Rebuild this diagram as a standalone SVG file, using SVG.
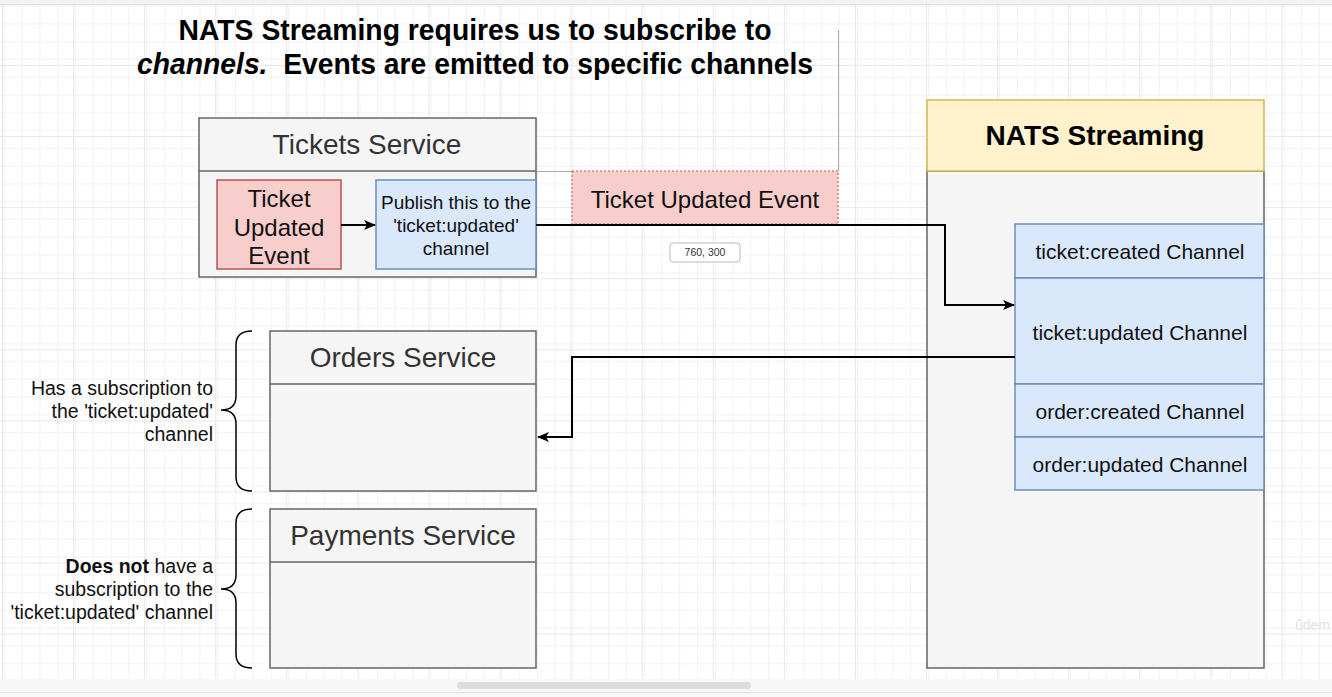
<svg xmlns="http://www.w3.org/2000/svg" width="1332" height="697" viewBox="0 0 1332 697">
<defs>
<pattern id="minor" patternUnits="userSpaceOnUse" x="1.96" y="65" width="17.77" height="17.77">
<path d="M0,0.5 H17.77 M0.5,0 V17.77" fill="none" stroke="#f1f1f1" stroke-width="1"/>
</pattern>
<pattern id="major" patternUnits="userSpaceOnUse" x="1.96" y="65" width="71.08" height="71.08">
<rect width="71.08" height="71.08" fill="url(#minor)"/>
<path d="M0,0.5 H71.08 M0.5,0 V71.08" fill="none" stroke="#e8e8e8" stroke-width="1"/>
</pattern>
<marker id="arr" viewBox="0 0 12 10" refX="11" refY="5" markerWidth="12" markerHeight="10" markerUnits="userSpaceOnUse" orient="auto">
<path d="M0,0 L12,5 L0,10 L3,5 Z" fill="#000"/>
</marker>
<style>
.t{font-family:"Liberation Sans",Arial,sans-serif}
.svc{fill:#f5f5f5;stroke:#666;stroke-width:1.5}
.hdr{font-size:28px;fill:#333;text-anchor:middle}
.red{fill:#f8cecc;stroke:#b85450;stroke-width:1.5}
.blue{fill:#dae8fc;stroke:#6c8ebf;stroke-width:1.5}
.ch{font-size:21px;fill:#111;text-anchor:middle}
.lbl{font-size:19.5px;fill:#111;text-anchor:end}
.conn{fill:none;stroke:#000;stroke-width:2}
.brace{fill:none;stroke:#000;stroke-width:1.5}
</style>
</defs>
<rect width="1332" height="697" fill="#fff"/>
<rect width="1332" height="697" fill="url(#major)"/>
<rect x="0" y="0" width="1332" height="4" fill="#f3f3f3"/>
<line x1="0" y1="4.5" x2="1332" y2="4.5" stroke="#dedede"/>

<g id="title" class="t" font-weight="bold" font-size="29" fill="#000" text-anchor="middle">
<text x="475" y="40" textLength="593" lengthAdjust="spacingAndGlyphs">NATS Streaming requires us to subscribe to</text>
<text x="475" y="74" textLength="676" lengthAdjust="spacingAndGlyphs"><tspan font-style="italic">channels.</tspan>&#160; Events are emitted to specific channels</text>
</g>

<g id="guides" stroke="#aaa" stroke-width="1">
<line x1="838.5" y1="30" x2="838.5" y2="171"/>
<line x1="536" y1="171.5" x2="572" y2="171.5"/>
</g>

<g id="tickets-service">
<rect class="svc" x="199" y="118" width="337" height="159"/>
<line x1="199" y1="171" x2="536" y2="171" stroke="#666" stroke-width="1.5"/>
<text class="t hdr" x="367" y="154">Tickets Service</text>
</g>

<g id="ticket-updated-event">
<rect class="red" x="217" y="180" width="124" height="89"/>
<text class="t" font-size="24" fill="#111" text-anchor="middle"><tspan x="279" y="207">Ticket</tspan><tspan x="279" y="236">Updated</tspan><tspan x="279" y="264">Event</tspan></text>
</g>

<g id="publish">
<rect class="blue" x="376" y="180" width="160" height="89"/>
<text class="t" font-size="19" fill="#111" text-anchor="middle"><tspan x="456" y="209">Publish this to the</tspan><tspan x="456" y="232">'ticket:updated'</tspan><tspan x="456" y="255">channel</tspan></text>
</g>

<g id="ticket-updated-event-drag">
<rect x="572" y="171" width="266" height="53" fill="#f8cecc" stroke="#b85450" stroke-width="1" stroke-dasharray="2 2"/>
<text class="t" font-size="24" fill="#111" text-anchor="middle" x="705" y="208">Ticket Updated Event</text>
</g>

<g id="tooltip">
<rect x="670" y="243" width="70" height="19" rx="3" fill="#fff" stroke="#bbb"/>
<text class="t" font-size="10.5" fill="#333" text-anchor="middle" x="705" y="256">760, 300</text>
</g>

<g id="nats">
<rect class="svc" x="927" y="171" width="337" height="497"/>
<rect x="927" y="100" width="337" height="71" fill="#fff2cc" stroke="#d6b656" stroke-width="1.5"/>
<text class="t" font-size="28" font-weight="bold" fill="#000" text-anchor="middle" x="1095" y="145">NATS Streaming</text>
</g>

<g id="channels">
<rect class="blue" x="1015" y="224" width="249" height="54"/>
<rect class="blue" x="1015" y="278" width="249" height="106"/>
<rect class="blue" x="1015" y="384" width="249" height="53"/>
<rect class="blue" x="1015" y="437" width="249" height="53"/>
<text class="t ch" x="1140" y="259">ticket:created Channel</text>
<text class="t ch" x="1140" y="340">ticket:updated Channel</text>
<text class="t ch" x="1140" y="419">order:created Channel</text>
<text class="t ch" x="1140" y="472">order:updated Channel</text>
</g>

<g id="orders-service">
<rect class="svc" x="270" y="331" width="266" height="160"/>
<line x1="270" y1="384" x2="536" y2="384" stroke="#666" stroke-width="1.5"/>
<text class="t hdr" x="403" y="367">Orders Service</text>
</g>

<g id="payments-service">
<rect class="svc" x="270" y="509" width="266" height="159"/>
<line x1="270" y1="562" x2="536" y2="562" stroke="#666" stroke-width="1.5"/>
<text class="t hdr" x="403" y="545">Payments Service</text>
</g>

<g id="orders-note">
<path class="brace" d="M252,331 Q236,331 236,345 L236,396 Q236,410 221,410 Q236,410 236,424 L236,477 Q236,491 252,491"/>
<text class="t lbl"><tspan x="213" y="395">Has a subscription to</tspan><tspan x="213" y="418">the 'ticket:updated'</tspan><tspan x="213" y="441">channel</tspan></text>
</g>

<g id="payments-note">
<path class="brace" d="M252,509 Q236,509 236,523 L236,575 Q236,589 221,589 Q236,589 236,603 L236,654 Q236,668 252,668"/>
<text class="t lbl"><tspan x="213" y="573"><tspan font-weight="bold">Does not</tspan> have a</tspan><tspan x="213" y="596">subscription to the</tspan><tspan x="213" y="619">'ticket:updated' channel</tspan></text>
</g>

<g id="connectors">
<path class="conn" d="M341,225 H375" marker-end="url(#arr)"/>
<path class="conn" d="M536,225 H945 V305 H1014" marker-end="url(#arr)"/>
<path class="conn" d="M1015,357 H572 V437 H538" marker-end="url(#arr)"/>
</g>

<text class="t" font-size="14" fill="#e2e2e2" x="1295" y="630">ûdem</text>

<rect x="0" y="679" width="1332" height="13" fill="#f7f7f7"/>
<rect x="457" y="682" width="294" height="7" rx="3.5" fill="#dcdcdc"/>
<line x1="0" y1="692.5" x2="1332" y2="692.5" stroke="#e2e2e2"/>
<rect x="0" y="693" width="1332" height="4" fill="#f8f8f8"/>
</svg>
